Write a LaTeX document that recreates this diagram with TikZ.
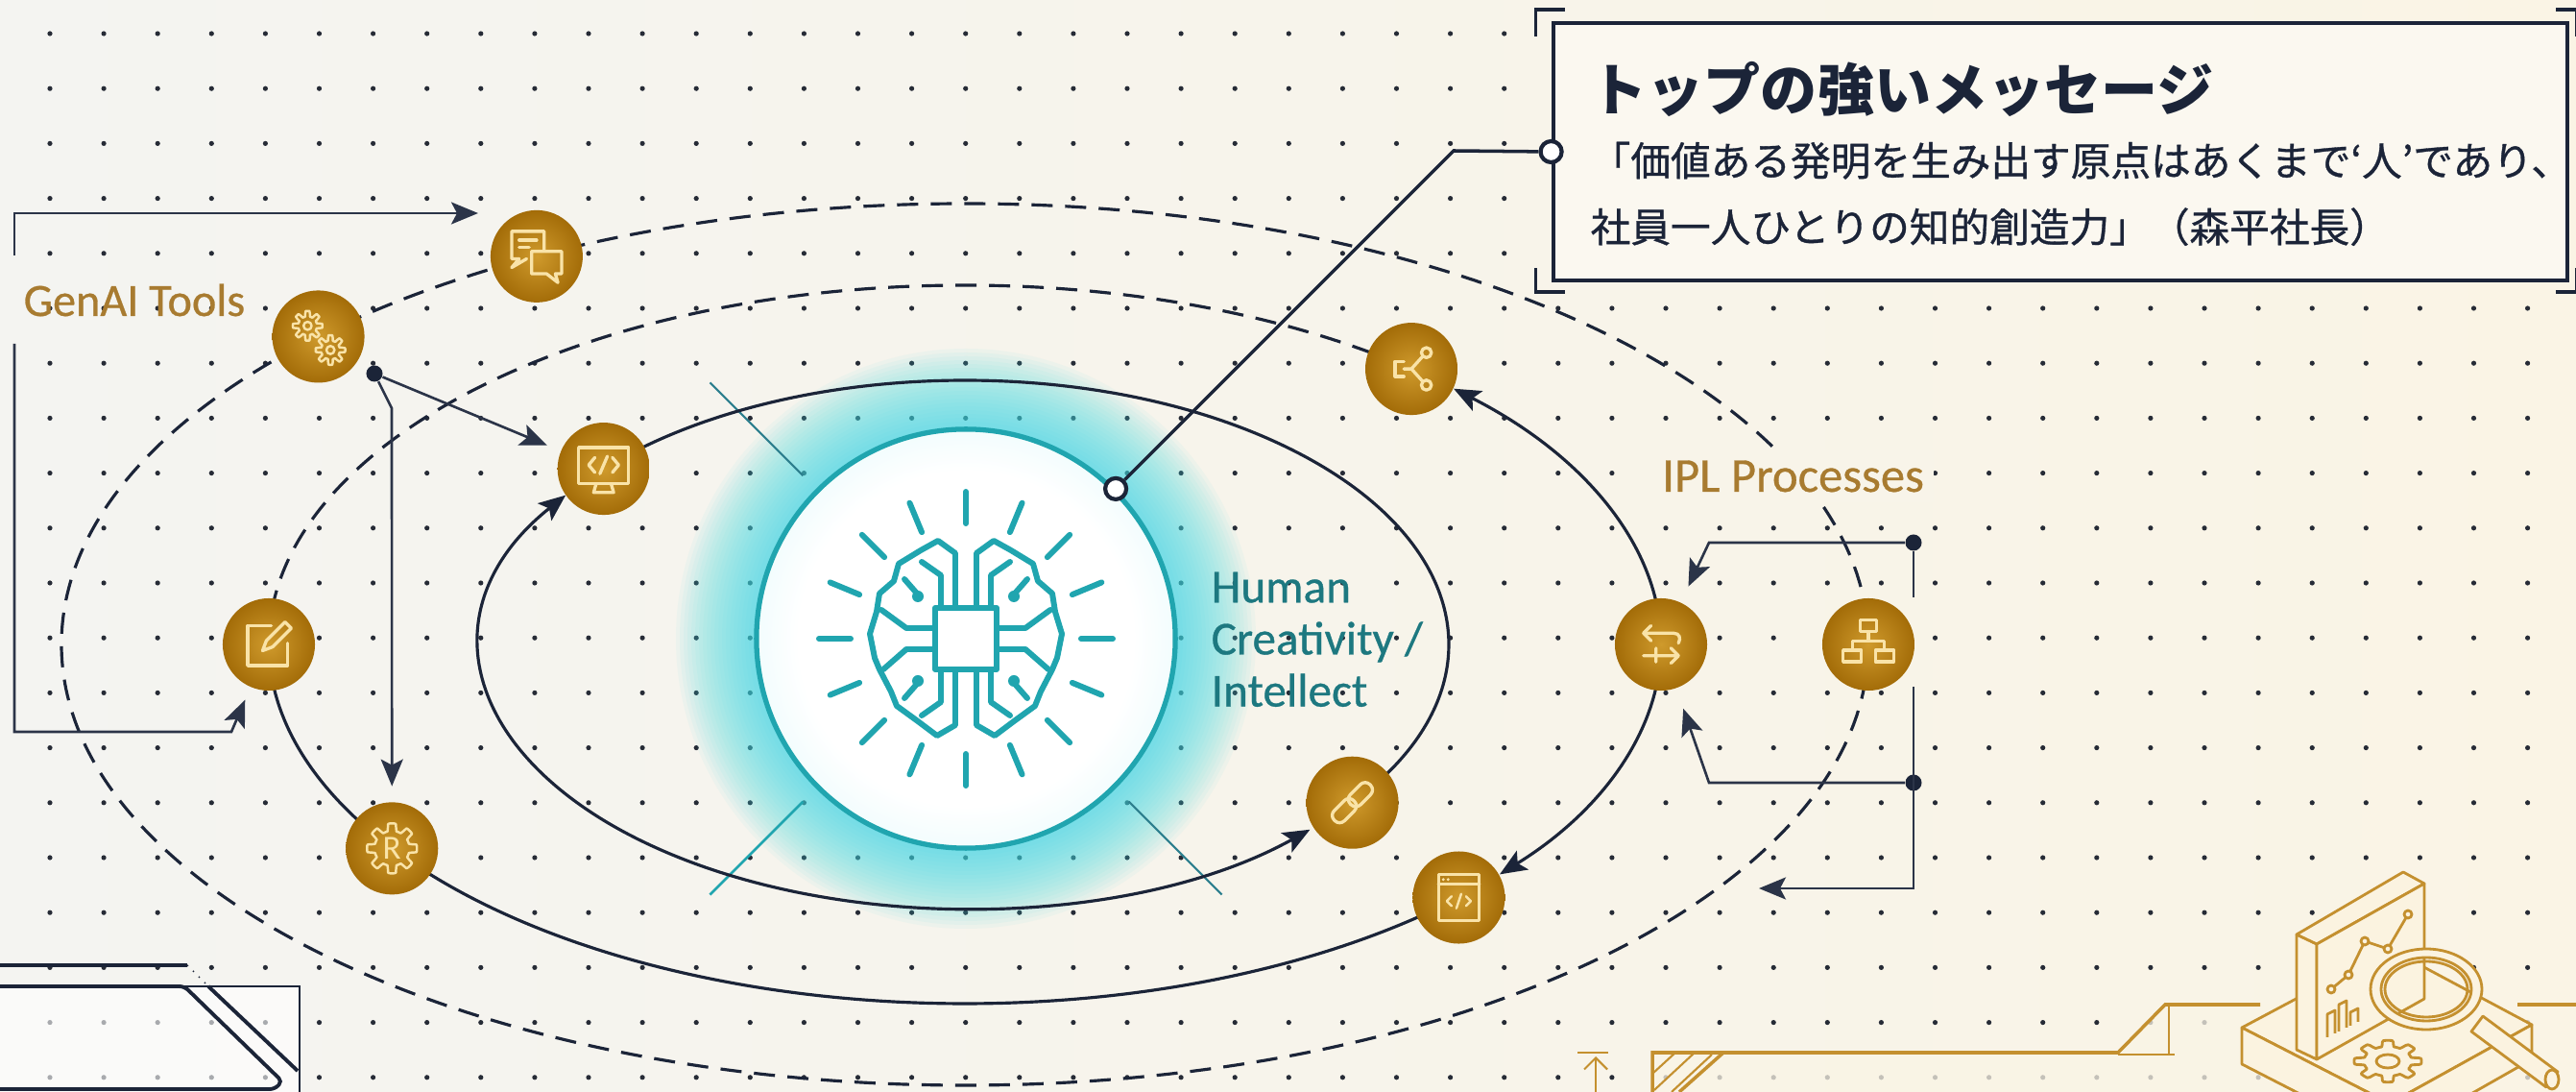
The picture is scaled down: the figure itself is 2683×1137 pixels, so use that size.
\documentclass[tikz,border=0pt]{standalone}
\usepackage{fontspec}
\setmainfont{Carlito}
\newfontfamily\labelfont{Carlito}[FakeBold=0.6]
\newfontfamily\jpfont{Noto Sans CJK JP}
\newfontfamily\jpbody{Noto Sans CJK JP}[FakeBold=0.8]
\usetikzlibrary{arrows.meta,calc}

\definecolor{navy}{HTML}{1B2438}
\definecolor{wirec}{HTML}{2B3448}
\definecolor{dotc}{HTML}{262B36}
\definecolor{goldlight}{HTML}{CF9A2C}
\definecolor{golddark}{HTML}{A36C08}
\definecolor{cream}{HTML}{F9E3A8}
\definecolor{goldtext}{HTML}{A87B30}
\definecolor{tealtext}{HTML}{1D7880}
\definecolor{teal}{HTML}{20A5AF}
\definecolor{raylt}{HTML}{2D7F8E}
\definecolor{glow}{HTML}{45DDE6}
\definecolor{paperL}{HTML}{F4F4F1}
\definecolor{paperR}{HTML}{FAF4E5}
\definecolor{boxfill}{HTML}{FBF8F0}
\definecolor{linegold}{HTML}{C4902F}
\definecolor{isofill}{HTML}{FBF3E0}

\pgfdeclareradialshading{brainfill}{\pgfpoint{0bp}{0bp}}{color(0bp)=(white); color(20bp)=(white); color(36bp)=(glow!22!white); color(46bp)=(glow!42!white); color(50bp)=(glow!60!white)}

\tikzset{
  orbit/.style={navy, line width=0.9pt},
  dashorbit/.style={orbit, dash pattern=on 2.2mm off 1.3mm},
  wire/.style={wirec, line width=0.75pt},
  arr/.style={-{Stealth[length=2.8mm,width=2.3mm,inset=0.6mm]}},
  twoarr/.style={{Stealth[length=2.8mm,width=2.3mm,inset=0.6mm]}-{Stealth[length=2.8mm,width=2.3mm,inset=0.6mm]}},
  icon/.style={circle, minimum size=0.96cm, inner sep=0pt, inner color=goldlight, outer color=golddark},
  glyph/.style={cream, line width=0.95pt, line cap=round, line join=round},
  jdot/.style={circle, fill=navy, minimum size=0.17cm, inner sep=0pt},
  pin/.style={circle, draw=navy, line width=1.2pt, fill=white, minimum size=0.22cm, inner sep=0pt},
  brainline/.style={teal, line width=1.7pt, line join=round, line cap=round},
  isoline/.style={linegold, line width=0.8pt, line join=round},
  gearsglyph/.pic={
    \draw[glyph, line width=0.7pt] plot[domain=0:360, samples=97, variable=\t] ({-8+(9+2*min(1,max(-1,3*cos(8*\t))))*cos(\t)}, {-8+(9+2*min(1,max(-1,3*cos(8*\t))))*sin(\t)}) -- cycle;
    \draw[glyph, line width=0.7pt] plot[domain=0:360, samples=97, variable=\t] ({9+(9+2*min(1,max(-1,3*cos(8*\t))))*cos(\t)}, {10+(9+2*min(1,max(-1,3*cos(8*\t))))*sin(\t)}) -- cycle;
    \draw[glyph, line width=0.7pt] (-8,-8) circle[radius=3] (9,10) circle[radius=3];
  },
  chatglyph/.pic={
    \draw[glyph] (-8,2) -- (-20,9) -- (-14,2) -- (-20,2) -- (-20,-20) -- (6,-20) -- (6,-5);
    \draw[glyph] (-14,-13) -- (0,-13) (-14,-7) -- (-6,-7);
    \draw[glyph] (8,14) -- (17,21) -- (15,14) -- (20,14) -- (20,-4) -- (-4,-4) -- (-4,14) -- cycle;
  },
  monitorglyph/.pic={
    \draw[glyph] (-20,-17) rectangle (20,12);
    \draw[glyph] (-6,12) -- (-8,19) -- (8,19) -- (6,12);
    \draw[glyph] (-7,-9) -- (-12,-3) -- (-7,3) (7,-9) -- (12,-3) -- (7,3) (3,-10) -- (-3,4);
  },
  editglyph/.pic={
    \draw[glyph] (2,-15) -- (-17,-15) -- (-17,17) -- (15,17) -- (15,-1);
    \draw[glyph] (-5,5) -- (-2,-3) -- (13,-18) -- (18,-13) -- (3,2) -- cycle;
  },
  rgearglyph/.pic={
    \draw[glyph, line width=0.7pt] plot[domain=0:360, samples=121, variable=\t] (\t:{17+3*min(1,max(-1,3*cos(8*\t)))}) -- cycle;
    \node[text=cream, font=\fontsize{10}{10}\selectfont] at (0,0) {R};
  },
  linkglyph/.pic={
    \begin{scope}[rotate=45]
      \draw[glyph, rounded corners=0.7mm] (-21,-6) rectangle (2,6);
      \draw[glyph, rounded corners=0.7mm] (-2,-6) rectangle (21,6);
    \end{scope}
  },
  codewinglyph/.pic={
    \draw[glyph] (-17,-19) rectangle (17,19) (-17,-11) -- (17,-11);
    \fill[cream] (-13,-15) circle[radius=1.3] (-9,-15) circle[radius=1.3];
    \draw[glyph, line width=0.7pt] (-6,-1) -- (-10,3) -- (-6,7) (6,-1) -- (10,3) -- (6,7) (2,-3) -- (-2,9);
  },
  swapglyph/.pic={
    \draw[glyph] (14,-1) .. controls (16,-5) and (15,-9) .. (10,-9) -- (-14,-9);
    \draw[glyph] (-8,-15) -- (-14,-9) -- (-8,-3);
    \draw[glyph] (-14,9) -- (14,9) (8,3) -- (14,9) -- (8,15) (-4,3) -- (-4,14);
  },
  shareglyph/.pic={
    \draw[glyph] (12,-13) circle[radius=4] (12,13) circle[radius=4];
    \draw[glyph] (9,-10) -- (0,0) -- (9,10) (0,0) -- (-6,0);
    \draw[glyph] (-6,-6) -- (-13,-6) -- (-13,6) -- (-6,6);
  },
  sitemapglyph/.pic={
    \draw[glyph] (-7,-21) rectangle (7,-11) (0,-11) -- (0,-3) (-14,5) -- (-14,-3) -- (14,-3) -- (14,5);
    \draw[glyph] (-22,5) rectangle (-6,15) (6,5) rectangle (22,15);
  },
  brainglyph/.pic={
    \foreach \a in {0,22.5,...,337.5}
      \draw[brainline] (\a:120) -- (\a:153);
    \draw[brainline] (-32,-32) rectangle (32,32);
    \foreach \s in {1,-1} {
      \draw[brainline] (-11*\s,-32) -- (-11*\s,-89) -- (-29*\s,-102) -- (-47*\s,-92) -- (-70*\s,-78) -- (-75*\s,-60) -- (-90*\s,-47) -- (-93*\s,-28) -- (-100*\s,-5) -- (-95*\s,20) -- (-90*\s,32) -- (-78*\s,55) -- (-72*\s,70) -- (-50*\s,86) -- (-30*\s,101) -- (-11*\s,90) -- (-11*\s,32);
      \draw[brainline] (-32*\s,-11) -- (-62*\s,-11) -- (-88*\s,-30);
      \draw[brainline] (-32*\s,11) -- (-62*\s,11) -- (-86*\s,32);
      \draw[brainline] (-26*\s,-32) -- (-26*\s,-66) -- (-46*\s,-80);
      \draw[brainline] (-26*\s,32) -- (-26*\s,66) -- (-46*\s,80);
      \draw[brainline] (-64*\s,-62) -- (-50*\s,-46);
      \draw[brainline] (-64*\s,62) -- (-50*\s,46);
      \fill[teal] (-50*\s,-44) circle[radius=6] (-50*\s,44) circle[radius=6];
    }
  }
}

\begin{document}
\begin{tikzpicture}[x=0.01cm, y=-0.01cm]
\shade[left color=paperL, right color=paperR] (0,0) rectangle (2683,1137);
\useasboundingbox (0,0) rectangle (2683,1137);

\foreach \i in {0,...,46}
  \foreach \j in {0,...,19}
    \fill[dotc] ({52+56.1*\i},{35+57.2*\j}) circle[radius=2.6];

\fill[white, opacity=0.6] (0,1027) rectangle (312,1137);
\fill[paperR, opacity=0.75] (1721,1096) -- (2206,1096) -- (2255,1046) -- (2683,1046) -- (2683,1137) -- (1721,1137) -- cycle;

\coordinate (hub) at (1005,671);
\coordinate (core) at (1006,665);

\foreach \r in {222,226,...,302}
  \fill[glow, opacity=0.055] (core) circle[radius=\r];
\shade[shading=brainfill] (core) circle[radius=218];

\draw[raylt, line width=0.6pt] ($(core)+(225:240)$) -- ($(core)+(225:377)$);
\draw[teal, line width=0.8pt] ($(core)+(135:240)$) -- ($(core)+(135:377)$);
\draw[raylt, line width=0.6pt] ($(core)+(45:240)$) -- ($(core)+(45:377)$);

\draw[dashorbit] (hub) ellipse[x radius=941, y radius=459];
\draw[dashorbit] (hub) ++(180:725 and 374) arc[start angle=180, end angle=309.9, x radius=725, y radius=374];
\draw[orbit] (hub) ++(180:725 and 374) arc[start angle=180, end angle=145.4, x radius=725, y radius=374];
\draw[orbit] (hub) ++(145.4:725 and 374) arc[start angle=145.4, end angle=44.8, x radius=725, y radius=374];
\draw[orbit, arr] (hub) ++(0:725 and 374) arc[start angle=0, end angle=39.8, x radius=725, y radius=374];
\draw[orbit, arr] (hub) ++(360:725 and 374) arc[start angle=360, end angle=314.6, x radius=725, y radius=374];
\draw[orbit] (hub) ++(221.7:504 and 275) arc[start angle=221.7, end angle=396.8, x radius=504, y radius=275];
\draw[orbit, twoarr] (hub) ++(214.4:504 and 275) arc[start angle=214.4, end angle=44.5, x radius=504, y radius=275];

\node[circle, draw=teal, line width=1.5pt, minimum size=4.36cm, inner sep=0pt] (brain) at (core) {};
\pic at (core) {brainglyph};

\node[icon] (gears) at ($(hub)+(224.3:941 and 459)$) {};
\node[icon] (chat) at ($(hub)+(241.7:941 and 459)$) {};
\node[icon] (sitemap) at ($(hub)+(0:941 and 459)$) {};
\node[icon] (edit) at ($(hub)+(180:725 and 374)$) {};
\node[icon] (rgear) at ($(hub)+(145.4:725 and 374)$) {};
\node[icon] (codewin) at ($(hub)+(44.8:725 and 374)$) {};
\node[icon] (swap) at ($(hub)+(0:725 and 374)$) {};
\node[icon] (share) at ($(hub)+(309.9:725 and 374)$) {};
\node[icon] (monitor) at ($(hub)+(221.7:504 and 275)$) {};
\node[icon] (link) at ($(hub)+(36.8:504 and 275)$) {};

\pic[scale=1.4] at (gears) {gearsglyph};
\pic[scale=1.3] at (chat) {chatglyph};
\pic[scale=1.2] at (sitemap) {sitemapglyph};
\pic[scale=1.3] at (edit) {editglyph};
\pic[scale=1.3] at (rgear) {rgearglyph};
\pic[scale=1.25] at (codewin) {codewinglyph};
\pic[scale=1.3] at (swap) {swapglyph};
\pic[scale=1.3] at (share) {shareglyph};
\pic[scale=1.3] at (monitor) {monitorglyph};
\pic[scale=1.25] at (link) {linkglyph};

\node[anchor=base west, inner sep=0pt, text=goldtext, font=\labelfont\fontsize{13.7}{16}\selectfont] (genai) at (24,329) {GenAI Tools};
\node[anchor=base west, inner sep=3pt, fill=paperR!70!paperL, text=goldtext, font=\labelfont\fontsize{14.4}{17}\selectfont] (ipl) at (1720,512) {IPL Processes};
\node[anchor=north west, inner sep=0pt, align=left, text=tealtext, font=\labelfont\fontsize{14}{15.4}\selectfont] (human) at (1261,595) {Human\\Creativity /\\Intellect};

\coordinate (brA) at (15,266);
\coordinate (brB) at (15,358);
\coordinate (brC) at (241,762);
\coordinate (gtip) at (498,222);
\draw[wire, arr] (brA) |- (gtip);
\draw[wire, arr, shorten >=1.4mm] (brB) |- (brC) -- (edit);

\node[jdot] (gdot) at (390,389) {};
\coordinate (gbend) at (408,425);
\draw[wire, arr, shorten >=1.5mm] (gdot) -- (monitor);
\draw[wire, arr, shorten >=1.6mm] (gdot) -- (gbend) -- (rgear);

\node[jdot] (tdot) at (1993,565) {};
\node[jdot] (mdot) at (1993,815) {};
\coordinate (rk1) at (1780,565);
\coordinate (rk2) at (1780,815);
\coordinate (rb1) at (1993,622);
\coordinate (rb2) at (1993,715);
\coordinate (rb3) at (1993,925);
\coordinate (rtip) at (1832,925);
\draw[wire] (tdot) -- (rb1);
\draw[wire, arr] (rb2) -- (rb3) -- (rtip);
\draw[wire, arr, shorten >=1.8mm] (tdot) -- (rk1) -- (swap);
\draw[wire, arr, shorten >=2.2mm] (mdot) -- (rk2) -- (swap);

\node[draw=navy, line width=1.2pt, fill=boxfill, minimum width=10.56cm, minimum height=2.68cm, inner sep=0pt] (msgbox) at (2146,158) {};
\draw[navy, line width=1pt] (msgbox.north west) ++(14,-12) -- ++(-30,0) -- ++(0,28);
\draw[navy, line width=1pt] (msgbox.south west) ++(14,10) -- ++(-30,0) -- ++(0,-25);
\draw[navy, line width=1pt] (msgbox.north east) ++(-14,-12) -- ++(21,0) -- ++(0,28);
\draw[navy, line width=1pt] (msgbox.south east) ++(-14,10) -- ++(21,0) -- ++(0,-25);
\node[anchor=base west, inner sep=0pt, text=navy, font=\jpfont\bfseries\fontsize{16.8}{20}\selectfont] (msgtitle) at (1656,116) {トップの強いメッセージ};
\node[anchor=base west, inner sep=0pt, text=navy, font=\jpbody\fontsize{11.85}{14}\selectfont] (msgline1) at (1656,183) {「価値ある発明を生み出す原点はあくまで‘人’であり、};
\node[anchor=base west, inner sep=0pt, text=navy, font=\jpbody\fontsize{11.85}{14}\selectfont] (msgline2) at (1656,252) {社員一人ひとりの知的創造力」（森平社長）};

\node[pin] (pinA) at (brain.45) {};
\node[pin] (pinB) at (msgbox.west) {};
\coordinate (knee) at (1514,157);
\draw[navy, line width=1pt] (pinA) -- (knee) -- (pinB);

\draw[navy, line width=1.1pt] (0,1005) -- (195,1005);
\draw[navy, line width=0.4pt, dotted] (195,1005) -- (217,1027);
\draw[navy, line width=1.1pt] (217,1027) -- (310,1115);
\draw[navy, line width=1.1pt, rounded corners=0.5mm] (0,1027) -- (192,1027) -- (294,1126) -- (286,1134) -- (0,1134);
\draw[navy, line width=0.7pt] (192,1027) -- (312,1027) -- (312,1137);

\draw[linegold, line width=1pt] (1721,1137) -- (1721,1096) -- (2206,1096) -- (2255,1046) -- (2354,1046);
\draw[linegold, line width=1pt] (1795,1096) -- (1749,1137);
\draw[linegold, line width=0.6pt] (1745,1096) -- (1721,1118) (1765,1096) -- (1723,1135) (1783,1098) -- (1741,1137);
\draw[linegold, line width=0.5pt] (2259,1046) -- (2259,1098) (2206,1098) -- (2265,1098);
\draw[linegold, line width=1pt] (2622,1046) -- (2683,1046);
\draw[linegold, line width=0.8pt] (1643,1096) -- (1675,1096);
\draw[linegold, line width=0.6pt, -{Straight Barb[length=1.2mm]}] (1662,1137) -- (1662,1100);

\filldraw[isoline, fill=isofill] (2335,1070) -- (2489,988) -- (2637,1067) -- (2489,1149) -- cycle;
\filldraw[isoline, fill=isofill] (2335,1070) -- (2335,1108) -- (2489,1187) -- (2489,1149) -- cycle;
\filldraw[isoline, fill=isofill] (2637,1067) -- (2637,1103) -- (2489,1187) -- (2489,1149) -- cycle;
\draw[isoline] plot[domain=0:360, samples=145, variable=\t] ({2487+(30+5*min(1,max(-1,3*cos(8*\t))))*cos(\t)}, {1105+0.62*(30+5*min(1,max(-1,3*cos(8*\t))))*sin(\t)}) -- cycle;
\draw[isoline] (2487,1105) ellipse[x radius=12, y radius=7];
\filldraw[isoline, fill=isofill] (2392,973) -- (2413,983) -- (2413,1103) -- (2392,1093) -- cycle;
\filldraw[isoline, fill=isofill] (2392,973) -- (2503,908) -- (2525,920) -- (2413,983) -- cycle;
\filldraw[isoline, fill=isofill] (2413,983) -- (2525,920) -- (2525,1040) -- (2413,1103) -- cycle;
\draw[isoline] (2428,1030) -- (2446,1015) -- (2463,980) -- (2487,988) -- (2508,952);
\foreach \p in {(2428,1030),(2446,1015),(2463,980),(2487,988),(2508,952)}
  \filldraw[isoline, fill=isofill] \p circle[radius=4];
\draw[isoline] (2424,1080) -- (2424,1056) -- (2432,1052) -- (2432,1076) (2436,1074) -- (2436,1046) -- (2444,1042) -- (2444,1070) (2448,1068) -- (2448,1054) -- (2456,1050) -- (2456,1064);
\filldraw[isoline, fill=isofill] (2586,1058) -- (2664,1116) -- (2652,1132) -- (2574,1074) -- cycle;
\filldraw[isoline, fill=isofill] (2658,1124) ellipse[x radius=7, y radius=10];
\filldraw[isoline, fill=isofill, even odd rule] (2527,1030) ellipse[x radius=58, y radius=42] (2527,1030) ellipse[x radius=47, y radius=33];
\draw[isoline] (2527,1030) ellipse[x radius=43, y radius=29];
\end{tikzpicture}
\end{document}
